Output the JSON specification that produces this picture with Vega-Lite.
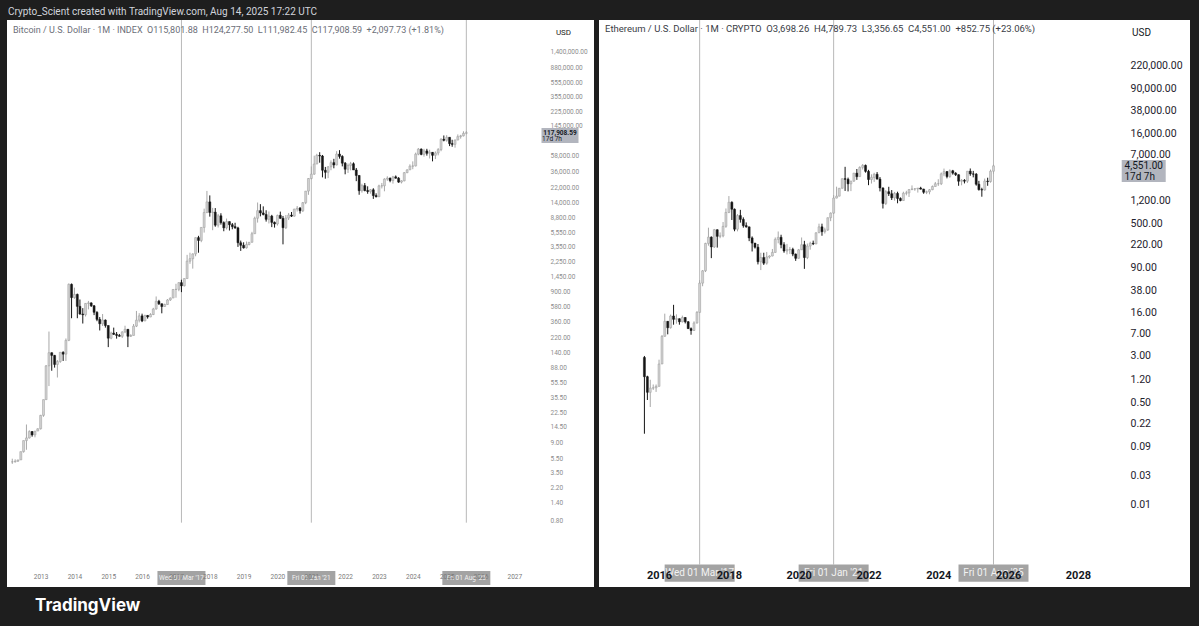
{
"$schema": "https://vega.github.io/schema/vega-lite/v6.json",
"background": "#1e1e1e",
"padding": {"left": 7, "right": 9, "top": 6, "bottom": 12},
"config": {"view": {"stroke": null, "fill": "#ffffff"}, "font": "Roboto"},
"datasets": {
"btc": [
{"d":"2012-03-01","o":4.9,"h":5.4,"l":4.6,"c":4.9},
{"d":"2012-04-01","o":4.9,"h":5.3,"l":4.8,"c":5.0},
{"d":"2012-05-01","o":5.0,"h":5.2,"l":4.9,"c":5.2},
{"d":"2012-06-01","o":5.2,"h":6.7,"l":5.2,"c":6.7},
{"d":"2012-07-01","o":6.7,"h":9.4,"l":6.5,"c":9.4},
{"d":"2012-08-01","o":9.4,"h":15.4,"l":7.1,"c":10.2},
{"d":"2012-09-01","o":10.2,"h":12.9,"l":10.0,"c":12.4},
{"d":"2012-10-01","o":12.4,"h":12.6,"l":10.6,"c":11.2},
{"d":"2012-11-01","o":11.2,"h":12.6,"l":10.4,"c":12.6},
{"d":"2012-12-01","o":12.6,"h":13.7,"l":12.6,"c":13.5},
{"d":"2013-01-01","o":13.5,"h":20.7,"l":13.2,"c":20.4},
{"d":"2013-02-01","o":20.4,"h":33.0,"l":19.5,"c":33.0},
{"d":"2013-03-01","o":33,"h":95,"l":33,"c":93},
{"d":"2013-04-01","o":93,"h":266,"l":50,"c":139},
{"d":"2013-05-01","o":139,"h":140,"l":80,"c":128},
{"d":"2013-06-01","o":128,"h":130,"l":88,"c":97},
{"d":"2013-07-01","o":97,"h":111,"l":65,"c":106},
{"d":"2013-08-01","o":106,"h":141,"l":102,"c":141},
{"d":"2013-09-01","o":141,"h":145,"l":108,"c":133},
{"d":"2013-10-01","o":133,"h":215,"l":108,"c":203},
{"d":"2013-11-01","o":203,"h":1163,"l":198,"c":1130},
{"d":"2013-12-01","o":1130,"h":1160,"l":400,"c":754},
{"d":"2014-01-01","o":754,"h":1020,"l":725,"c":830},
{"d":"2014-02-01","o":830,"h":850,"l":400,"c":575},
{"d":"2014-03-01","o":575,"h":710,"l":445,"c":455},
{"d":"2014-04-01","o":455,"h":545,"l":340,"c":445},
{"d":"2014-05-01","o":445,"h":635,"l":422,"c":630},
{"d":"2014-06-01","o":630,"h":680,"l":525,"c":640},
{"d":"2014-07-01","o":640,"h":650,"l":565,"c":585},
{"d":"2014-08-01","o":585,"h":600,"l":440,"c":480},
{"d":"2014-09-01","o":480,"h":495,"l":365,"c":386},
{"d":"2014-10-01","o":386,"h":415,"l":275,"c":338},
{"d":"2014-11-01","o":338,"h":455,"l":315,"c":378},
{"d":"2014-12-01","o":378,"h":385,"l":300,"c":320},
{"d":"2015-01-01","o":320,"h":320,"l":165,"c":217},
{"d":"2015-02-01","o":217,"h":265,"l":210,"c":254},
{"d":"2015-03-01","o":254,"h":300,"l":240,"c":244},
{"d":"2015-04-01","o":244,"h":262,"l":214,"c":236},
{"d":"2015-05-01","o":236,"h":247,"l":228,"c":230},
{"d":"2015-06-01","o":230,"h":268,"l":218,"c":263},
{"d":"2015-07-01","o":263,"h":318,"l":253,"c":285},
{"d":"2015-08-01","o":285,"h":285,"l":165,"c":230},
{"d":"2015-09-01","o":230,"h":245,"l":225,"c":236},
{"d":"2015-10-01","o":236,"h":335,"l":236,"c":314},
{"d":"2015-11-01","o":314,"h":500,"l":305,"c":377},
{"d":"2015-12-01","o":377,"h":467,"l":352,"c":430},
{"d":"2016-01-01","o":430,"h":460,"l":355,"c":368},
{"d":"2016-02-01","o":368,"h":445,"l":366,"c":436},
{"d":"2016-03-01","o":436,"h":440,"l":395,"c":416},
{"d":"2016-04-01","o":416,"h":467,"l":413,"c":448},
{"d":"2016-05-01","o":448,"h":550,"l":440,"c":531},
{"d":"2016-06-01","o":531,"h":780,"l":520,"c":673},
{"d":"2016-07-01","o":673,"h":703,"l":600,"c":624},
{"d":"2016-08-01","o":624,"h":625,"l":465,"c":573},
{"d":"2016-09-01","o":573,"h":625,"l":570,"c":609},
{"d":"2016-10-01","o":609,"h":720,"l":605,"c":700},
{"d":"2016-11-01","o":700,"h":755,"l":680,"c":743},
{"d":"2016-12-01","o":743,"h":975,"l":740,"c":966},
{"d":"2017-01-01","o":966,"h":1150,"l":750,"c":970},
{"d":"2017-02-01","o":970,"h":1210,"l":915,"c":1190},
{"d":"2017-03-01","o":1190,"h":1300,"l":890,"c":1080},
{"d":"2017-04-01","o":1080,"h":1350,"l":1060,"c":1350},
{"d":"2017-05-01","o":1350,"h":2790,"l":1350,"c":2300},
{"d":"2017-06-01","o":2300,"h":2980,"l":2120,"c":2480},
{"d":"2017-07-01","o":2480,"h":2920,"l":1830,"c":2875},
{"d":"2017-08-01","o":2875,"h":4760,"l":2670,"c":4730},
{"d":"2017-09-01","o":4730,"h":5000,"l":2980,"c":4340},
{"d":"2017-10-01","o":4340,"h":6470,"l":4110,"c":6470},
{"d":"2017-11-01","o":6470,"h":11500,"l":5520,"c":10230},
{"d":"2017-12-01","o":10230,"h":19800,"l":10000,"c":14150},
{"d":"2018-01-01","o":14150,"h":17250,"l":9000,"c":10230},
{"d":"2018-02-01","o":10230,"h":11780,"l":5940,"c":10330},
{"d":"2018-03-01","o":10330,"h":11700,"l":6600,"c":6930},
{"d":"2018-04-01","o":6930,"h":9780,"l":6450,"c":9240},
{"d":"2018-05-01","o":9240,"h":9990,"l":7050,"c":7490},
{"d":"2018-06-01","o":7490,"h":7780,"l":5750,"c":6390},
{"d":"2018-07-01","o":6390,"h":8490,"l":6070,"c":7730},
{"d":"2018-08-01","o":7730,"h":7770,"l":5880,"c":7030},
{"d":"2018-09-01","o":7030,"h":7410,"l":6110,"c":6630},
{"d":"2018-10-01","o":6630,"h":7460,"l":6200,"c":6370},
{"d":"2018-11-01","o":6370,"h":6590,"l":3560,"c":4040},
{"d":"2018-12-01","o":4040,"h":4320,"l":3150,"c":3740},
{"d":"2019-01-01","o":3740,"h":4100,"l":3380,"c":3460},
{"d":"2019-02-01","o":3460,"h":4200,"l":3380,"c":3830},
{"d":"2019-03-01","o":3830,"h":4120,"l":3730,"c":4100},
{"d":"2019-04-01","o":4100,"h":5650,"l":4080,"c":5330},
{"d":"2019-05-01","o":5330,"h":9000,"l":5330,"c":8570},
{"d":"2019-06-01","o":8570,"h":13880,"l":7500,"c":10820},
{"d":"2019-07-01","o":10820,"h":13200,"l":9080,"c":10080},
{"d":"2019-08-01","o":10080,"h":12330,"l":9360,"c":9600},
{"d":"2019-09-01","o":9600,"h":10950,"l":7730,"c":8290},
{"d":"2019-10-01","o":8290,"h":10540,"l":7300,"c":9150},
{"d":"2019-11-01","o":9150,"h":9510,"l":6530,"c":7550},
{"d":"2019-12-01","o":7550,"h":7750,"l":6430,"c":7190},
{"d":"2020-01-01","o":7190,"h":9580,"l":6850,"c":9350},
{"d":"2020-02-01","o":9350,"h":10500,"l":8450,"c":8540},
{"d":"2020-03-01","o":8540,"h":9190,"l":3850,"c":6410},
{"d":"2020-04-01","o":6410,"h":9460,"l":6150,"c":8620},
{"d":"2020-05-01","o":8620,"h":10070,"l":8110,"c":9450},
{"d":"2020-06-01","o":9450,"h":10380,"l":8910,"c":9140},
{"d":"2020-07-01","o":9140,"h":11450,"l":8990,"c":11340},
{"d":"2020-08-01","o":11340,"h":12470,"l":10530,"c":11650},
{"d":"2020-09-01","o":11650,"h":12090,"l":9880,"c":10780},
{"d":"2020-10-01","o":10780,"h":14100,"l":10370,"c":13800},
{"d":"2020-11-01","o":13800,"h":19700,"l":13200,"c":19700},
{"d":"2020-12-01","o":19700,"h":29300,"l":17570,"c":28990},
{"d":"2021-01-01","o":28990,"h":41950,"l":28130,"c":33110},
{"d":"2021-02-01","o":33110,"h":58350,"l":32380,"c":45140},
{"d":"2021-03-01","o":45140,"h":61780,"l":45000,"c":58800},
{"d":"2021-04-01","o":58800,"h":64850,"l":47000,"c":57700},
{"d":"2021-05-01","o":57700,"h":59600,"l":30000,"c":37300},
{"d":"2021-06-01","o":37300,"h":41300,"l":28800,"c":35040},
{"d":"2021-07-01","o":35040,"h":42400,"l":29300,"c":41460},
{"d":"2021-08-01","o":41460,"h":50500,"l":37330,"c":47100},
{"d":"2021-09-01","o":47100,"h":52950,"l":39600,"c":43820},
{"d":"2021-10-01","o":43820,"h":67000,"l":43300,"c":61300},
{"d":"2021-11-01","o":61300,"h":69000,"l":53250,"c":57000},
{"d":"2021-12-01","o":57000,"h":59100,"l":42000,"c":46300},
{"d":"2022-01-01","o":46300,"h":48000,"l":32950,"c":38480},
{"d":"2022-02-01","o":38480,"h":45850,"l":34320,"c":43180},
{"d":"2022-03-01","o":43180,"h":48200,"l":37150,"c":45540},
{"d":"2022-04-01","o":45540,"h":47450,"l":37650,"c":37640},
{"d":"2022-05-01","o":37640,"h":39990,"l":26700,"c":31800},
{"d":"2022-06-01","o":31800,"h":31990,"l":17600,"c":19930},
{"d":"2022-07-01","o":19930,"h":24670,"l":18780,"c":23300},
{"d":"2022-08-01","o":23300,"h":25200,"l":19550,"c":20050},
{"d":"2022-09-01","o":20050,"h":22800,"l":18150,"c":19430},
{"d":"2022-10-01","o":19430,"h":20990,"l":18200,"c":20490},
{"d":"2022-11-01","o":20490,"h":21480,"l":15500,"c":17170},
{"d":"2022-12-01","o":17170,"h":18400,"l":16260,"c":16540},
{"d":"2023-01-01","o":16540,"h":23960,"l":16500,"c":23130},
{"d":"2023-02-01","o":23130,"h":25250,"l":21350,"c":23150},
{"d":"2023-03-01","o":23150,"h":29190,"l":19570,"c":28470},
{"d":"2023-04-01","o":28470,"h":31000,"l":26940,"c":29250},
{"d":"2023-05-01","o":29250,"h":29820,"l":25800,"c":27210},
{"d":"2023-06-01","o":27210,"h":31390,"l":24750,"c":30480},
{"d":"2023-07-01","o":30480,"h":31800,"l":28860,"c":29240},
{"d":"2023-08-01","o":29240,"h":30220,"l":25370,"c":25940},
{"d":"2023-09-01","o":25940,"h":27480,"l":24900,"c":26970},
{"d":"2023-10-01","o":26970,"h":35200,"l":26550,"c":34650},
{"d":"2023-11-01","o":34650,"h":38430,"l":34100,"c":37720},
{"d":"2023-12-01","o":37720,"h":44700,"l":37630,"c":42270},
{"d":"2024-01-01","o":42270,"h":48970,"l":38500,"c":42580},
{"d":"2024-02-01","o":42580,"h":64000,"l":41880,"c":61130},
{"d":"2024-03-01","o":61130,"h":73800,"l":59100,"c":71300},
{"d":"2024-04-01","o":71300,"h":72800,"l":59100,"c":60640},
{"d":"2024-05-01","o":60640,"h":71950,"l":56550,"c":67500},
{"d":"2024-06-01","o":67500,"h":71950,"l":58400,"c":62700},
{"d":"2024-07-01","o":62700,"h":70000,"l":53500,"c":64600},
{"d":"2024-08-01","o":64600,"h":65100,"l":49000,"c":58970},
{"d":"2024-09-01","o":58970,"h":66500,"l":52550,"c":63330},
{"d":"2024-10-01","o":63330,"h":73600,"l":58900,"c":70200},
{"d":"2024-11-01","o":70200,"h":99600,"l":66800,"c":96400},
{"d":"2024-12-01","o":96400,"h":108300,"l":90500,"c":93400},
{"d":"2025-01-01","o":93400,"h":109350,"l":89200,"c":102400},
{"d":"2025-02-01","o":102400,"h":102500,"l":78200,"c":84350},
{"d":"2025-03-01","o":84350,"h":95000,"l":76600,"c":82550},
{"d":"2025-04-01","o":82550,"h":95750,"l":74500,"c":94200},
{"d":"2025-05-01","o":94200,"h":111900,"l":93400,"c":104600},
{"d":"2025-06-01","o":104600,"h":110500,"l":98200,"c":107100},
{"d":"2025-07-01","o":107100,"h":123200,"l":105100,"c":115801.88},
{"d":"2025-08-01","o":115801.88,"h":124277.5,"l":111982.45,"c":117908.59}
],
"eth": [
{"d":"2015-08-01","o":2.83,"h":3.0,"l":0.15,"c":1.35},
{"d":"2015-09-01","o":1.35,"h":1.4,"l":0.55,"c":0.74},
{"d":"2015-10-01","o":0.74,"h":1.2,"l":0.42,"c":0.87},
{"d":"2015-11-01","o":0.87,"h":1.0,"l":0.81,"c":0.88},
{"d":"2015-12-01","o":0.88,"h":1.0,"l":0.75,"c":0.93},
{"d":"2016-01-01","o":0.93,"h":2.6,"l":0.93,"c":2.2},
{"d":"2016-02-01","o":2.2,"h":6.7,"l":2.2,"c":6.4},
{"d":"2016-03-01","o":6.4,"h":15.3,"l":6.3,"c":11.4},
{"d":"2016-04-01","o":11.4,"h":11.5,"l":6.9,"c":8.9},
{"d":"2016-05-01","o":8.9,"h":14.8,"l":8.6,"c":14.0},
{"d":"2016-06-01","o":14.0,"h":21.5,"l":10.0,"c":12.3},
{"d":"2016-07-01","o":12.3,"h":14.9,"l":10.4,"c":12.6},
{"d":"2016-08-01","o":12.6,"h":12.7,"l":10.0,"c":11.2},
{"d":"2016-09-01","o":11.2,"h":14.2,"l":10.9,"c":13.2},
{"d":"2016-10-01","o":13.2,"h":13.4,"l":10.5,"c":11.2},
{"d":"2016-11-01","o":11.2,"h":11.5,"l":8.5,"c":8.6},
{"d":"2016-12-01","o":8.6,"h":9.0,"l":6.8,"c":8.0},
{"d":"2017-01-01","o":8.0,"h":11.4,"l":7.9,"c":10.7},
{"d":"2017-02-01","o":10.7,"h":16.9,"l":10.4,"c":16.1},
{"d":"2017-03-01","o":16.1,"h":55.6,"l":15.9,"c":49.6},
{"d":"2017-04-01","o":49.6,"h":82,"l":44,"c":79.8},
{"d":"2017-05-01","o":79.8,"h":235,"l":76,"c":229},
{"d":"2017-06-01","o":229,"h":420,"l":210,"c":292},
{"d":"2017-07-01","o":292,"h":300,"l":130,"c":200},
{"d":"2017-08-01","o":200,"h":400,"l":193,"c":388},
{"d":"2017-09-01","o":388,"h":393,"l":195,"c":301},
{"d":"2017-10-01","o":301,"h":350,"l":280,"c":306},
{"d":"2017-11-01","o":306,"h":522,"l":290,"c":442},
{"d":"2017-12-01","o":442,"h":880,"l":418,"c":756},
{"d":"2018-01-01","o":756,"h":1420,"l":735,"c":1118},
{"d":"2018-02-01","o":1118,"h":1160,"l":565,"c":855},
{"d":"2018-03-01","o":855,"h":880,"l":366,"c":396},
{"d":"2018-04-01","o":396,"h":710,"l":365,"c":670},
{"d":"2018-05-01","o":670,"h":835,"l":510,"c":578},
{"d":"2018-06-01","o":578,"h":625,"l":420,"c":455},
{"d":"2018-07-01","o":455,"h":515,"l":420,"c":434},
{"d":"2018-08-01","o":434,"h":436,"l":250,"c":283},
{"d":"2018-09-01","o":283,"h":300,"l":168,"c":232},
{"d":"2018-10-01","o":232,"h":233,"l":188,"c":198},
{"d":"2018-11-01","o":198,"h":224,"l":102,"c":113},
{"d":"2018-12-01","o":113,"h":160,"l":82,"c":133},
{"d":"2019-01-01","o":133,"h":160,"l":100,"c":107},
{"d":"2019-02-01","o":107,"h":165,"l":101,"c":136},
{"d":"2019-03-01","o":136,"h":145,"l":128,"c":141},
{"d":"2019-04-01","o":141,"h":185,"l":139,"c":162},
{"d":"2019-05-01","o":162,"h":288,"l":160,"c":268},
{"d":"2019-06-01","o":268,"h":363,"l":230,"c":290},
{"d":"2019-07-01","o":290,"h":320,"l":190,"c":218},
{"d":"2019-08-01","o":218,"h":240,"l":160,"c":171},
{"d":"2019-09-01","o":171,"h":225,"l":150,"c":180},
{"d":"2019-10-01","o":180,"h":200,"l":153,"c":182},
{"d":"2019-11-01","o":182,"h":194,"l":140,"c":152},
{"d":"2019-12-01","o":152,"h":155,"l":117,"c":129},
{"d":"2020-01-01","o":129,"h":185,"l":127,"c":179},
{"d":"2020-02-01","o":179,"h":288,"l":179,"c":218},
{"d":"2020-03-01","o":218,"h":253,"l":86,"c":133},
{"d":"2020-04-01","o":133,"h":228,"l":125,"c":207},
{"d":"2020-05-01","o":207,"h":245,"l":180,"c":231},
{"d":"2020-06-01","o":231,"h":255,"l":215,"c":225},
{"d":"2020-07-01","o":225,"h":350,"l":222,"c":345},
{"d":"2020-08-01","o":345,"h":490,"l":345,"c":434},
{"d":"2020-09-01","o":434,"h":490,"l":308,"c":360},
{"d":"2020-10-01","o":360,"h":420,"l":335,"c":386},
{"d":"2020-11-01","o":386,"h":622,"l":370,"c":616},
{"d":"2020-12-01","o":616,"h":757,"l":540,"c":737},
{"d":"2021-01-01","o":737,"h":1475,"l":715,"c":1313},
{"d":"2021-02-01","o":1313,"h":2040,"l":1300,"c":1416},
{"d":"2021-03-01","o":1416,"h":1943,"l":1400,"c":1917},
{"d":"2021-04-01","o":1917,"h":2795,"l":1900,"c":2774},
{"d":"2021-05-01","o":2774,"h":4380,"l":1730,"c":2706},
{"d":"2021-06-01","o":2706,"h":2890,"l":1700,"c":2274},
{"d":"2021-07-01","o":2274,"h":2550,"l":1718,"c":2530},
{"d":"2021-08-01","o":2530,"h":3470,"l":2450,"c":3433},
{"d":"2021-09-01","o":3433,"h":4030,"l":2650,"c":3000},
{"d":"2021-10-01","o":3000,"h":4460,"l":2975,"c":4288},
{"d":"2021-11-01","o":4288,"h":4868,"l":3950,"c":4630},
{"d":"2021-12-01","o":4630,"h":4780,"l":3500,"c":3680},
{"d":"2022-01-01","o":3680,"h":3900,"l":2160,"c":2688},
{"d":"2022-02-01","o":2688,"h":3280,"l":2300,"c":2920},
{"d":"2022-03-01","o":2920,"h":3480,"l":2450,"c":3283},
{"d":"2022-04-01","o":3283,"h":3580,"l":2710,"c":2727},
{"d":"2022-05-01","o":2727,"h":2955,"l":1700,"c":1942},
{"d":"2022-06-01","o":1942,"h":1975,"l":880,"c":1067},
{"d":"2022-07-01","o":1067,"h":1780,"l":1005,"c":1680},
{"d":"2022-08-01","o":1680,"h":2030,"l":1425,"c":1553},
{"d":"2022-09-01","o":1553,"h":1790,"l":1220,"c":1328},
{"d":"2022-10-01","o":1328,"h":1665,"l":1190,"c":1572},
{"d":"2022-11-01","o":1572,"h":1680,"l":1075,"c":1295},
{"d":"2022-12-01","o":1295,"h":1350,"l":1160,"c":1196},
{"d":"2023-01-01","o":1196,"h":1680,"l":1190,"c":1585},
{"d":"2023-02-01","o":1585,"h":1740,"l":1460,"c":1605},
{"d":"2023-03-01","o":1605,"h":1860,"l":1370,"c":1822},
{"d":"2023-04-01","o":1822,"h":2140,"l":1785,"c":1870},
{"d":"2023-05-01","o":1870,"h":1930,"l":1740,"c":1874},
{"d":"2023-06-01","o":1874,"h":1935,"l":1625,"c":1934},
{"d":"2023-07-01","o":1934,"h":2030,"l":1830,"c":1855},
{"d":"2023-08-01","o":1855,"h":1880,"l":1550,"c":1645},
{"d":"2023-09-01","o":1645,"h":1750,"l":1530,"c":1671},
{"d":"2023-10-01","o":1671,"h":1865,"l":1520,"c":1814},
{"d":"2023-11-01","o":1814,"h":2135,"l":1780,"c":2052},
{"d":"2023-12-01","o":2052,"h":2445,"l":2050,"c":2282},
{"d":"2024-01-01","o":2282,"h":2715,"l":2100,"c":2283},
{"d":"2024-02-01","o":2283,"h":3520,"l":2170,"c":3340},
{"d":"2024-03-01","o":3340,"h":4095,"l":3050,"c":3645},
{"d":"2024-04-01","o":3645,"h":3730,"l":2810,"c":3015},
{"d":"2024-05-01","o":3015,"h":3975,"l":2860,"c":3760},
{"d":"2024-06-01","o":3760,"h":3890,"l":3240,"c":3435},
{"d":"2024-07-01","o":3435,"h":3560,"l":3080,"c":3230},
{"d":"2024-08-01","o":3230,"h":3275,"l":2110,"c":2515},
{"d":"2024-09-01","o":2515,"h":2730,"l":2150,"c":2600},
{"d":"2024-10-01","o":2600,"h":2725,"l":2310,"c":2520},
{"d":"2024-11-01","o":2520,"h":3720,"l":2355,"c":3705},
{"d":"2024-12-01","o":3705,"h":4110,"l":3100,"c":3335},
{"d":"2025-01-01","o":3335,"h":3745,"l":2920,"c":3300},
{"d":"2025-02-01","o":3300,"h":3440,"l":2120,"c":2240},
{"d":"2025-03-01","o":2240,"h":2550,"l":1755,"c":1820},
{"d":"2025-04-01","o":1820,"h":1955,"l":1385,"c":1795},
{"d":"2025-05-01","o":1795,"h":2790,"l":1750,"c":2530},
{"d":"2025-06-01","o":2530,"h":2880,"l":2110,"c":2485},
{"d":"2025-07-01","o":2485,"h":3940,"l":2375,"c":3698.26},
{"d":"2025-08-01","o":3698.26,"h":4789.73,"l":3356.65,"c":4551}
],
"markers": [
{"d":"2017-03-01","t":"Wed 01 Mar '17"},
{"d":"2021-01-01","t":"Fri 01 Jan '21"},
{"d":"2025-08-01","t":"Fri 01 Aug '25"}
]
},
"title": {"text": "TradingView", "orient": "bottom", "anchor": "start", "fontSize": 17, "fontWeight": "bold", "color": "#ffffff", "font": "Inter", "dx": 28, "offset": 11},
"vconcat": [
{
"title": {"text": "Crypto_Scient created with TradingView.com, Aug 14, 2025 17:22 UTC", "anchor": "start", "fontSize": 10, "fontWeight": "normal", "color": "#d1d4dc", "offset": 3, "dx": 1},
"spacing": 5,
"hconcat": [
{
"width": 587, "height": 567,
"title": {"text": "Bitcoin / U.S. Dollar · 1M · INDEX\u00a0\u00a0O115,801.88\u00a0\u00a0H124,277.50\u00a0\u00a0L111,982.45\u00a0\u00a0C117,908.59\u00a0\u00a0+2,097.73 (+1.81%)", "anchor": "start", "fontSize": 9, "fontWeight": "normal", "color": "#6b6e78", "offset": -19, "baseline": "middle", "dx": 6},
"layer": [
{
"data": {"name": "markers"},
"mark": {"type": "rule", "color": "#b8b8b8", "strokeWidth": 1},
"encoding": {
"x": {"field": "d", "type": "temporal"},
"y": {"datum": 3730000},
"y2": {"datum": 0.76}
}
},
{
"data": {"name": "btc"},
"mark": {"type": "rule", "strokeWidth": 1},
"encoding": {
"x": {"field": "d", "type": "temporal",
  "scale": {"type": "utc", "domain": [{"year": 2012, "month": 2, "date": 27, "utc": true}, {"year": 2029, "month": 3, "date": 17, "utc": true}]},
  "axis": {"orient": "bottom", "offset": -14, "values": [{"year":2013,"utc":true},{"year":2014,"utc":true},{"year":2015,"utc":true},{"year":2016,"utc":true},{"year":2017,"utc":true},{"year":2018,"utc":true},{"year":2019,"utc":true},{"year":2020,"utc":true},{"year":2021,"utc":true},{"year":2022,"utc":true},{"year":2023,"utc":true},{"year":2024,"utc":true},{"year":2025,"utc":true},{"year":2026,"utc":true},{"year":2027,"utc":true}],
    "format": "%Y", "labelFontSize": 6.5, "labelColor": "#7a7a7a", "ticks": false, "tickSize": 0, "domain": false, "grid": false, "labelPadding": 0, "labelOverlap": false, "labelFlush": false, "title": null, "zindex": 1}},
"y": {"field": "l", "type": "quantitative",
  "scale": {"type": "log", "domain": [0.1058, 3730000], "nice": false, "zero": false},
  "axis": {"orient": "right", "offset": -44, "values": [1400000, 880000, 555000, 355000, 225000, 145000, 58000, 36000, 22000, 14000, 8800, 5550, 3550, 2250, 1450, 900, 580, 360, 220, 140, 88, 55.5, 35.5, 22.5, 14.5, 9, 5.5, 3.5, 2.2, 1.4, 0.8],
    "format": ",.2f", "labelFontSize": 6.5, "labelColor": "#8c8c8c", "labelAlign": "left", "ticks": false, "tickSize": 0, "domain": false, "grid": false, "labelPadding": 0, "labelOverlap": false, "labelBound": false, "zindex": 1,
    "title": "USD", "titleAngle": 0, "titleX": 13, "titleY": 12, "titleAlign": "center", "titleBaseline": "middle", "titleFontSize": 8, "titleFontWeight": "normal", "titleColor": "#222222"}},
"y2": {"field": "h"},
"color": {"condition": {"test": "datum.c >= datum.o", "value": "#a8a8a8"}, "value": "#151515"}
}
},
{
"data": {"name": "btc"},
"mark": {"type": "bar", "width": 2, "strokeWidth": 0.5},
"encoding": {
"x": {"field": "d", "type": "temporal"},
"y": {"field": "o", "type": "quantitative"},
"y2": {"field": "c"},
"fill": {"condition": {"test": "datum.c >= datum.o", "value": "#d2d2d2"}, "value": "#151515"},
"stroke": {"condition": {"test": "datum.c >= datum.o", "value": "#9a9a9a"}, "value": "#151515"}
}
},
{
"data": {"name": "markers"},
"mark": {"type": "bar", "width": 48, "color": "#a3a3a3"},
"encoding": {
"x": {"field": "d", "type": "temporal"},
"y": {"datum": 0.1728},
"y2": {"datum": 0.1124}
}
},
{
"data": {"name": "markers"},
"mark": {"type": "text", "fontSize": 6.5, "color": "#f2f2f2"},
"encoding": {
"x": {"field": "d", "type": "temporal"},
"y": {"datum": 0.1394},
"text": {"field": "t"}
}
},
{
"data": {"values": [{"p": 117908.59}]},
"mark": {"type": "bar", "width": 37, "color": "#b2b5be"},
"encoding": {
"x": {"datum": {"year": 2028, "month": 5, "date": 8, "utc": true}, "type": "temporal"},
"y": {"datum": 136400},
"y2": {"datum": 86100}
}
},
{
"data": {"values": [{"t": "117,908.59"}]},
"mark": {"type": "text", "fontSize": 6.5, "fontWeight": "bold", "color": "#131722"},
"encoding": {
"x": {"datum": {"year": 2028, "month": 5, "date": 8, "utc": true}, "type": "temporal"},
"y": {"datum": 117908.59},
"text": {"field": "t"}
}
},
{
"data": {"values": [{"t": "17d 7h"}]},
"mark": {"type": "text", "fontSize": 6.5, "color": "#131722", "dx": -8},
"encoding": {
"x": {"datum": {"year": 2028, "month": 5, "date": 8, "utc": true}, "type": "temporal"},
"y": {"datum": 97300},
"text": {"field": "t"}
}
}
]
},
{
"width": 591, "height": 567,
"title": {"text": "Ethereum / U.S. Dollar · 1M · CRYPTO\u00a0\u00a0O3,698.26\u00a0\u00a0H4,789.73\u00a0\u00a0L3,356.65\u00a0\u00a0C4,551.00\u00a0\u00a0+852.75 (+23.06%)", "anchor": "start", "fontSize": 9.5, "fontWeight": "normal", "color": "#3a3d46", "offset": -19, "baseline": "middle", "dx": 6},
"layer": [
{
"data": {"name": "markers"},
"mark": {"type": "rule", "color": "#b8b8b8", "strokeWidth": 1},
"encoding": {
"x": {"field": "d", "type": "temporal"},
"y": {"datum": 1253000},
"y2": {"datum": 0.00097}
}
},
{
"data": {"name": "eth"},
"mark": {"type": "rule", "strokeWidth": 1},
"encoding": {
"x": {"field": "d", "type": "temporal",
  "scale": {"type": "utc", "domain": [{"year": 2014, "month": 6, "date": 4, "utc": true}, {"year": 2031, "month": 1, "date": 26, "utc": true}]},
  "axis": {"orient": "bottom", "offset": -18, "values": [{"year":2016,"utc":true},{"year":2018,"utc":true},{"year":2020,"utc":true},{"year":2022,"utc":true},{"year":2024,"utc":true},{"year":2026,"utc":true},{"year":2028,"utc":true}],
    "format": "%Y", "labelFontSize": 11, "labelFontWeight": "bold", "labelColor": "#131722", "ticks": false, "tickSize": 0, "domain": false, "grid": false, "labelPadding": 0, "labelOverlap": false, "labelFlush": false, "title": null, "zindex": 1}},
"y": {"field": "l", "type": "quantitative",
  "scale": {"type": "log", "domain": [0.000409, 1253000], "nice": false, "zero": false},
  "axis": {"orient": "right", "offset": -60, "values": [220000, 90000, 38000, 16000, 7000, 1200, 500, 220, 90, 38, 16, 7, 3, 1.2, 0.5, 0.22, 0.09, 0.03, 0.01],
    "format": ",.2f", "labelFontSize": 10.5, "labelColor": "#1e222d", "labelAlign": "left", "ticks": false, "tickSize": 0, "domain": false, "grid": false, "labelPadding": 0, "labelOverlap": false, "labelBound": false, "zindex": 1,
    "title": "USD", "titleAngle": 0, "titleX": 11, "titleY": 12, "titleAlign": "center", "titleBaseline": "middle", "titleFontSize": 10, "titleFontWeight": "normal", "titleColor": "#131722"}},
"y2": {"field": "h"},
"color": {"condition": {"test": "datum.c >= datum.o", "value": "#a8a8a8"}, "value": "#151515"}
}
},
{
"data": {"name": "eth"},
"mark": {"type": "bar", "width": 2, "strokeWidth": 0.5},
"encoding": {
"x": {"field": "d", "type": "temporal"},
"y": {"field": "o", "type": "quantitative"},
"y2": {"field": "c"},
"fill": {"condition": {"test": "datum.c >= datum.o", "value": "#d2d2d2"}, "value": "#151515"},
"stroke": {"condition": {"test": "datum.c >= datum.o", "value": "#9a9a9a"}, "value": "#151515"}
}
},
{
"data": {"name": "markers"},
"mark": {"type": "bar", "width": 70, "color": "#a3a3a3"},
"encoding": {
"x": {"field": "d", "type": "temporal"},
"y": {"datum": 0.00097},
"y2": {"datum": 0.0005}
}
},
{
"data": {"name": "markers"},
"mark": {"type": "text", "fontSize": 10, "color": "#f2f2f2"},
"encoding": {
"x": {"field": "d", "type": "temporal"},
"y": {"datum": 0.0007},
"text": {"field": "t"}
}
},
{
"data": {"values": [{"p": 4551}]},
"mark": {"type": "bar", "width": 44, "color": "#b2b5be"},
"encoding": {
"x": {"datum": {"year": 2029, "month": 11, "date": 20, "utc": true}, "type": "temporal"},
"y": {"datum": 5690},
"y2": {"datum": 2438}
}
},
{
"data": {"values": [{"t": "4,551.00"}]},
"mark": {"type": "text", "fontSize": 10, "color": "#131722"},
"encoding": {
"x": {"datum": {"year": 2029, "month": 11, "date": 20, "utc": true}, "type": "temporal"},
"y": {"datum": 4551},
"text": {"field": "t"}
}
},
{
"data": {"values": [{"t": "17d 7h"}]},
"mark": {"type": "text", "fontSize": 10, "color": "#131722", "dx": -4},
"encoding": {
"x": {"datum": {"year": 2029, "month": 11, "date": 20, "utc": true}, "type": "temporal"},
"y": {"datum": 2958},
"text": {"field": "t"}
}
}
]
}
]
}
]
}
